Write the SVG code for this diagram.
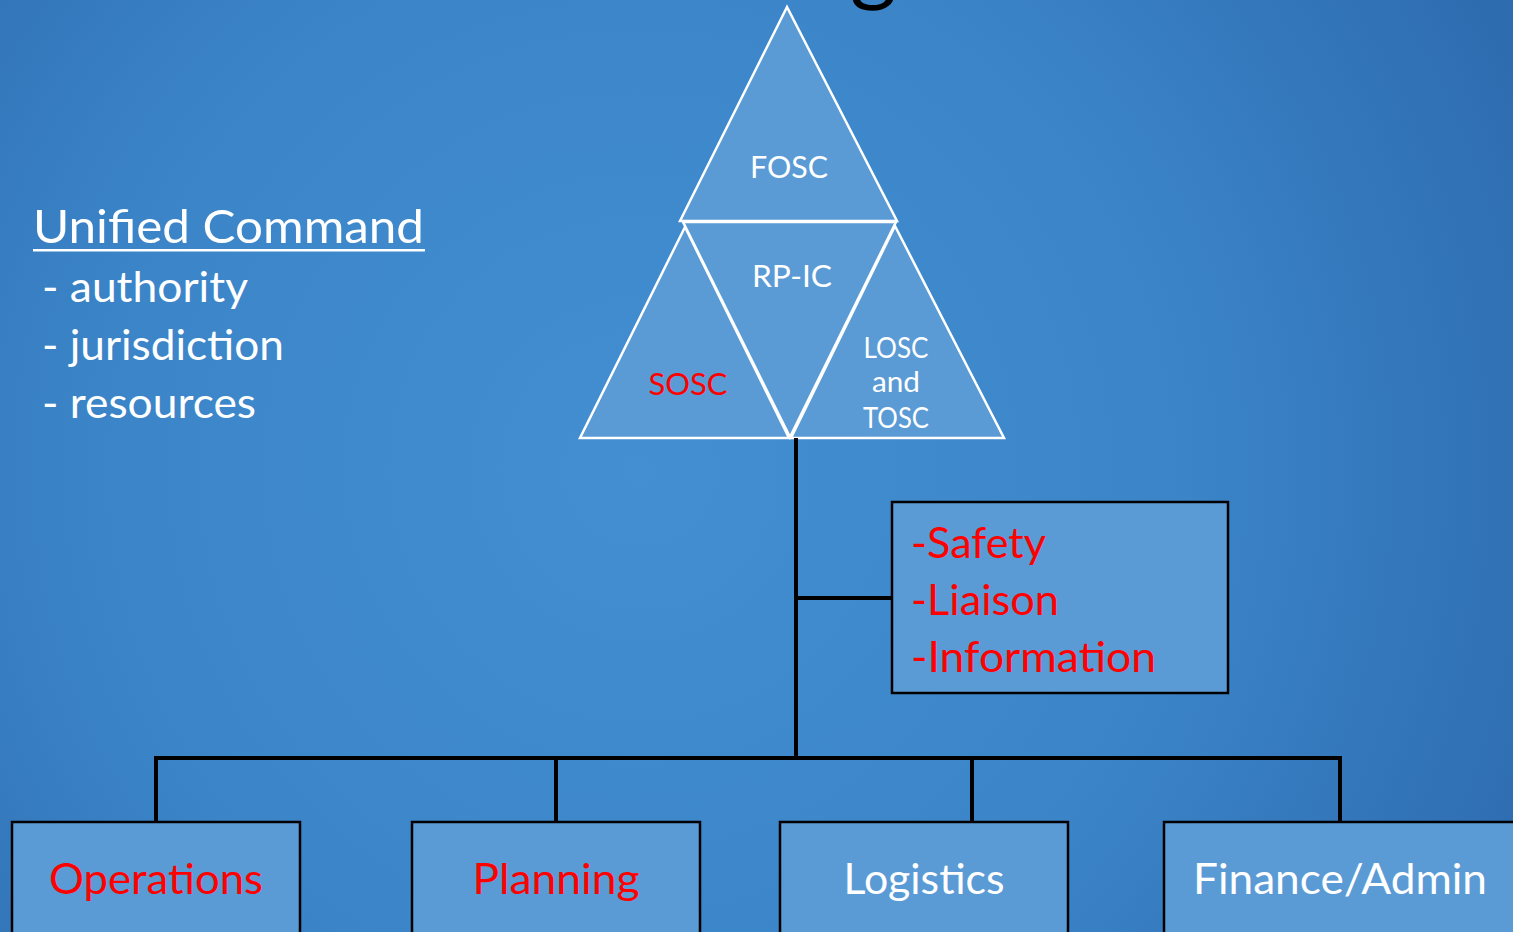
<svg xmlns="http://www.w3.org/2000/svg" width="1513" height="932" viewBox="0 0 1513 932">
<defs>
<radialGradient id="bg" cx="640" cy="470" r="1000" gradientUnits="userSpaceOnUse">
<stop offset="0" stop-color="#438fd2"/>
<stop offset="0.55" stop-color="#3b84c8"/>
<stop offset="1" stop-color="#2d6aae"/>
</radialGradient>
<style>
.tri{fill:#5b9bd5;stroke:#ffffff;stroke-width:2.5;stroke-linejoin:miter}
.box{fill:#5b9bd5;stroke:#000000;stroke-width:2.5}
.ln{stroke:#000000;stroke-width:4;fill:none}
text{font-family:Lato,"Open Sans","Liberation Sans",sans-serif}
.w{fill:#ffffff}
.r{fill:#ff0000}
</style>
</defs>
<rect x="0" y="0" width="1513" height="932" fill="url(#bg)"/>
<text x="850" y="-6" font-size="90" fill="#000000">g</text>
<g id="legend">
<text class="w" x="33" y="243" font-size="47" textLength="391" lengthAdjust="spacingAndGlyphs">Unified Command</text>
<rect x="33" y="249" width="392" height="2.5" fill="#ffffff"/>
<text class="w" x="42" y="302" font-size="42" textLength="206" lengthAdjust="spacingAndGlyphs">- authority</text>
<text class="w" x="42" y="360" font-size="42" textLength="242" lengthAdjust="spacingAndGlyphs">- jurisdiction</text>
<text class="w" x="42" y="418" font-size="42" textLength="214" lengthAdjust="spacingAndGlyphs">- resources</text>
</g>
<g id="fosc">
<polygon class="tri" points="787,7 680,221 897,221"/>
<text class="w" x="789" y="178" font-size="30" text-anchor="middle" textLength="78" lengthAdjust="spacingAndGlyphs">FOSC</text>
</g>
<g id="rpic">
<polygon class="tri" points="683,222 896,222 790,437"/>
<text class="w" x="792" y="287" font-size="30" text-anchor="middle" textLength="80" lengthAdjust="spacingAndGlyphs">RP-IC</text>
</g>
<g id="sosc">
<polygon class="tri" points="685,227 580,438 789,438"/>
<text class="r" x="688" y="395" font-size="31" text-anchor="middle" textLength="79" lengthAdjust="spacingAndGlyphs">SOSC</text>
</g>
<g id="losc">
<polygon class="tri" points="895,226 791,438 1004,438"/>
<text class="w" x="896" y="358" font-size="28" text-anchor="middle" textLength="65" lengthAdjust="spacingAndGlyphs">LOSC</text>
<text class="w" x="896" y="392" font-size="28" text-anchor="middle" textLength="48" lengthAdjust="spacingAndGlyphs">and</text>
<text class="w" x="896" y="428" font-size="28" text-anchor="middle" textLength="66" lengthAdjust="spacingAndGlyphs">TOSC</text>
</g>
<g id="connectors">
<line class="ln" x1="796" y1="438" x2="796" y2="758"/>
<line class="ln" x1="796" y1="598" x2="892" y2="598"/>
<polyline class="ln" points="156,822 156,758 1340,758 1340,822"/>
<line class="ln" x1="556" y1="758" x2="556" y2="822"/>
<line class="ln" x1="972" y1="758" x2="972" y2="822"/>
</g>
<g id="staff">
<rect class="box" x="892" y="502" width="336" height="191"/>
<text class="r" x="911" y="558" font-size="43" textLength="135" lengthAdjust="spacingAndGlyphs">-Safety</text>
<text class="r" x="911" y="615" font-size="43" textLength="148" lengthAdjust="spacingAndGlyphs">-Liaison</text>
<text class="r" x="911" y="672" font-size="43" textLength="245" lengthAdjust="spacingAndGlyphs">-Information</text>
</g>
<g id="operations">
<rect class="box" x="12" y="822" width="288" height="120"/>
<text class="r" x="156" y="894" font-size="43" text-anchor="middle" textLength="214" lengthAdjust="spacingAndGlyphs">Operations</text>
</g>
<g id="planning">
<rect class="box" x="412" y="822" width="288" height="120"/>
<text class="r" x="556" y="894" font-size="43" text-anchor="middle" textLength="167" lengthAdjust="spacingAndGlyphs">Planning</text>
</g>
<g id="logistics">
<rect class="box" x="780" y="822" width="288" height="120"/>
<text class="w" x="924" y="894" font-size="43" text-anchor="middle" textLength="161" lengthAdjust="spacingAndGlyphs">Logistics</text>
</g>
<g id="finance">
<rect class="box" x="1164" y="822" width="360" height="120"/>
<text class="w" x="1340" y="894" font-size="43" text-anchor="middle" textLength="294" lengthAdjust="spacingAndGlyphs">Finance/Admin</text>
</g>
</svg>
